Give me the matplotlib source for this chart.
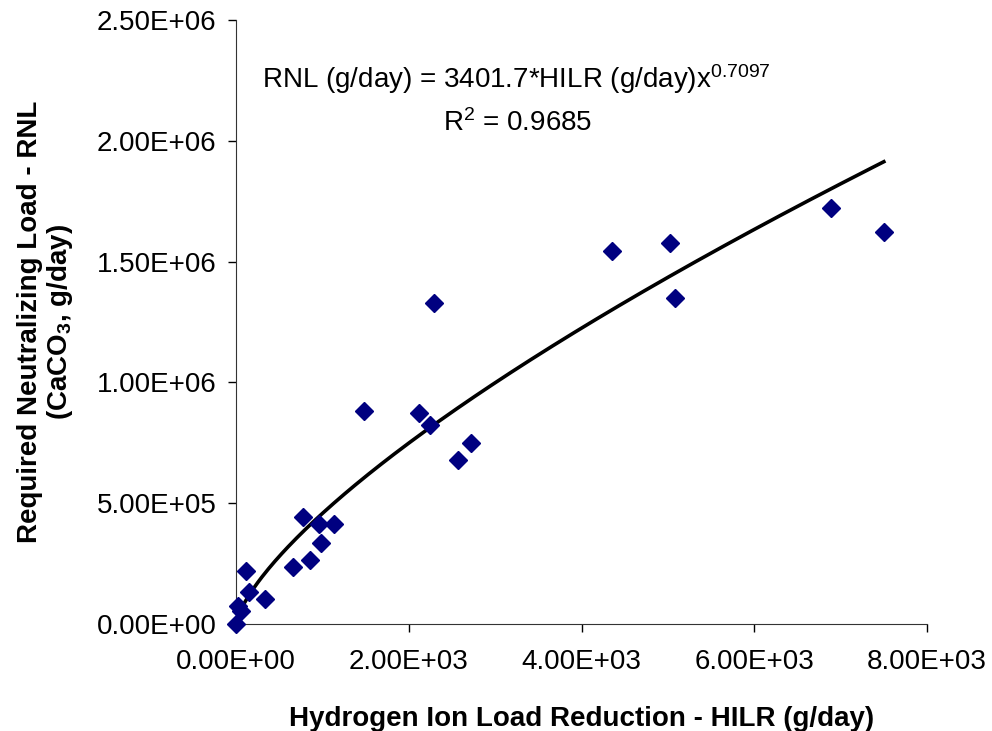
import numpy as np
import matplotlib
matplotlib.use("Agg")
import matplotlib.pyplot as plt

plt.rcParams["font.family"] = ["Liberation Sans", "DejaVu Sans"]
plt.rcParams["mathtext.fontset"] = "custom"
plt.rcParams["mathtext.rm"] = "Liberation Sans"
plt.rcParams["mathtext.default"] = "regular"

# ── Data ─────────────────────────────────────────────────────────
hilr = [0, 27, 54, 116, 154, 336, 656, 779, 856, 964, 983, 1134,
        1481, 2122, 2245, 2295, 2573, 2716, 4352, 5023, 5081, 6887, 7500]
rnl = [0, 74500, 55000, 220000, 134000, 103000, 235000, 442000, 265000,
       413000, 334000, 414000, 882000, 875000, 824000, 1327000, 679000,
       750000, 1544000, 1577000, 1349000, 1722000, 1623000]

# power trendline as reported on the chart
fit_coef = 3401.7
fit_exp = 0.7097

x_ticks = [0, 2000, 4000, 6000, 8000]
y_ticks = [0, 500000, 1000000, 1500000, 2000000, 2500000]

fig = plt.figure(figsize=(9.92, 7.31), dpi=100)
ax = fig.add_axes([0.238, 0.1464, 0.6965, 0.8262])

xf = np.linspace(0, max(hilr), 300)
ax.plot(xf, fit_coef * xf ** fit_exp, color="black", linewidth=2.6, zorder=2)
ax.plot(hilr, rnl, linestyle="none", marker="D", markersize=9,
        color="#000080", zorder=3, clip_on=False)

ax.set_xlim(0, 8000)
ax.set_ylim(0, 2500000)
ax.set_xticks(x_ticks)
ax.set_yticks(y_ticks)
ax.set_xticklabels([f"{v:.2E}" for v in x_ticks])
ax.set_yticklabels([f"{v:.2E}" for v in y_ticks])
ax.tick_params(labelsize=20, length=6, width=1, direction="out")
ax.tick_params(axis="x", pad=12)
ax.tick_params(axis="y", pad=8)
ax.spines["top"].set_visible(False)
ax.spines["right"].set_visible(False)
ax.spines["left"].set_color("#333333")
ax.spines["bottom"].set_color("#333333")

ax.set_xlabel("Hydrogen Ion Load Reduction - HILR (g/day)",
              fontsize=20, fontweight="bold", labelpad=22)
ax.set_ylabel("Required Neutralizing Load - RNL\n(CaCO$_3$, g/day)",
              fontsize=20, fontweight="bold", labelpad=16, linespacing=1.05)

ax.text(300, 2.255e6,
        f"RNL (g/day) = {fit_coef}*HILR (g/day)x$^{{{fit_exp}}}$",
        fontsize=20, ha="left", va="center")
ax.text(2396, 2.075e6, "R$^2$ = 0.9685", fontsize=20, ha="left", va="center")

fig.savefig("out.png", dpi=100)
